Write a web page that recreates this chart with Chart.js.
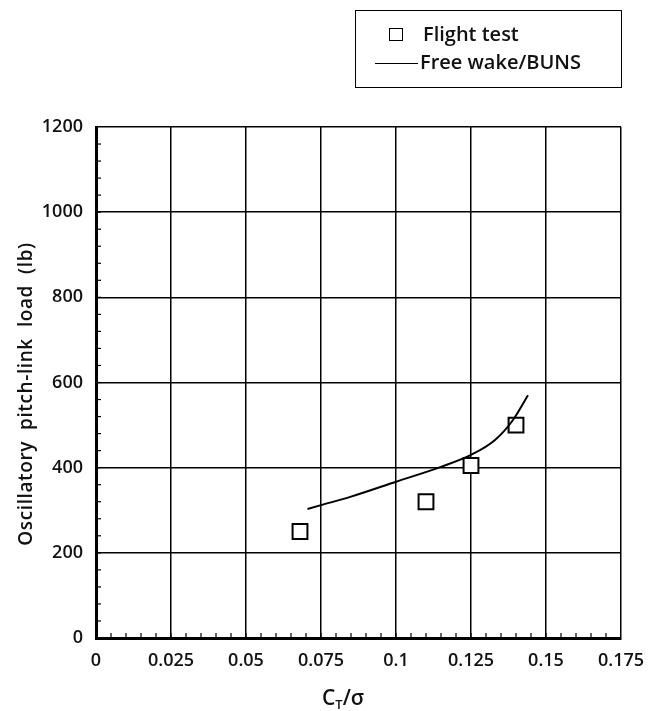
<!DOCTYPE html>
<html>
<head>
<meta charset="utf-8">
<script src="https://cdn.jsdelivr.net/npm/chart.js@4.4.0/dist/chart.umd.min.js"></script>
<style>
  body { margin: 0; background: #fff; }
  #wrap { position: relative; width: 659px; height: 711px; }
  #legenda {
    position: absolute; left: 355px; top: 10px; width: 267px; height: 78px;
    border: 1.5px solid #000; box-sizing: border-box;
    font-family: "Open Sans", "DejaVu Sans", sans-serif; font-size: 20px; font-weight: 600; color: #111;
  }
  .item { position: absolute; left: 0; white-space: nowrap; line-height: 26px; }
  .quad { position: absolute; width: 12px; height: 11px; border: 1.5px solid #000; }
  .traco { position: absolute; height: 0; border-top: 1.5px solid #000; }
</style>
</head>
<body>
<div id="wrap">
  <canvas id="grafico" width="659" height="711"></canvas>
  <div id="legenda">
    <div class="quad" style="left:33px; top:17px;"></div>
    <div class="item" style="left:67px; top:10px;">Flight test</div>
    <div class="traco" style="left:19px; top:52px; width:43px;"></div>
    <div class="item" style="left:64px; top:38px;">Free wake/BUNS</div>
  </div>
</div>
<script>
// Dados
const voo_x = [0.068, 0.11, 0.125, 0.14];
const voo_y = [250, 320, 405, 500];

const buns_x = [0.0705, 0.075, 0.085, 0.1, 0.115, 0.125, 0.133, 0.139, 0.144];
const buns_y = [303, 312, 332, 367, 402, 430, 465, 512, 570];

const xTicks = [0, 0.025, 0.05, 0.075, 0.1, 0.125, 0.15, 0.175];
const yTicks = [0, 200, 400, 600, 800, 1000, 1200];

const fonte = '"Open Sans", "DejaVu Sans", sans-serif';

// Tiques menores e títulos dos eixos
const extras = {
  id: 'extras',
  afterDraw(chart) {
    const ctx = chart.ctx;
    const xs = chart.scales.x, ys = chart.scales.y;
    const a = chart.chartArea;
    ctx.save();
    ctx.strokeStyle = '#000';
    ctx.lineWidth = 1.2;
    for (let v = 0.005; v < 0.175; v += 0.005) {
      const px = xs.getPixelForValue(v);
      ctx.beginPath(); ctx.moveTo(px, a.bottom); ctx.lineTo(px, a.bottom - 5); ctx.stroke();
    }
    for (let v = 40; v < 1200; v += 40) {
      const py = ys.getPixelForValue(v);
      ctx.beginPath(); ctx.moveTo(a.left, py); ctx.lineTo(a.left + 5, py); ctx.stroke();
    }
    // título y
    ctx.fillStyle = '#111';
    ctx.font = '600 19px ' + fonte;
    ctx.letterSpacing = '0.6px';
    ctx.textAlign = 'center';
    ctx.textBaseline = 'middle';
    ctx.translate(27, 394);
    ctx.rotate(-Math.PI / 2);
    ctx.fillText('Oscillatory  pitch-link  load  (lb)', 0, 0);
    ctx.restore();

    // título x: C_T/σ
    ctx.save();
    ctx.fillStyle = '#111';
    ctx.textBaseline = 'alphabetic';
    ctx.textAlign = 'left';
    let x0 = 322, y0 = 705;
    ctx.font = '600 21px ' + fonte;
    ctx.fillText('C', x0, y0);
    x0 += ctx.measureText('C').width;
    ctx.font = '600 13px ' + fonte;
    ctx.fillText('T', x0, y0 + 4);
    x0 += ctx.measureText('T').width;
    ctx.font = '600 21px ' + fonte;
    ctx.fillText('/σ', x0, y0);
    ctx.restore();
  }
};

new Chart(document.getElementById('grafico'), {
  type: 'scatter',
  data: {
    datasets: [
      {
        label: 'Free wake/BUNS',
        type: 'line',
        data: buns_x.map((x, i) => ({ x: x, y: buns_y[i] })),
        borderColor: '#000',
        borderWidth: 2,
        pointRadius: 0,
        fill: false,
        cubicInterpolationMode: 'monotone'
      },
      {
        label: 'Flight test',
        data: voo_x.map((x, i) => ({ x: x, y: voo_y[i] })),
        pointStyle: 'rect',
        pointRadius: 10.5,
        pointBackgroundColor: '#fff',
        pointBorderColor: '#000',
        pointBorderWidth: 2
      }
    ]
  },
  plugins: [extras],
  options: {
    responsive: false,
    animation: false,
    layout: { padding: { left: 0, right: 38, top: 127, bottom: 0 } },
    plugins: { legend: { display: false }, tooltip: { enabled: false } },
    scales: {
      x: {
        type: 'linear', min: 0, max: 0.175,
        afterBuildTicks: (s) => { s.ticks = xTicks.map(v => ({ value: v })); },
        afterFit: (s) => { s.height = 73; },
        grid: { color: '#000', lineWidth: 1.5, drawTicks: false },
        border: { color: '#000', width: 3 },
        ticks: {
          color: '#111', padding: 12, maxRotation: 0,
          font: { family: fonte, size: 18, weight: '600' },
          callback: (v) => String(v)
        }
      },
      y: {
        min: 0, max: 1200,
        afterBuildTicks: (s) => { s.ticks = yTicks.map(v => ({ value: v })); },
        afterFit: (s) => { s.width = 96; },
        grid: { color: '#000', lineWidth: 1.5, drawTicks: false },
        border: { color: '#000', width: 3 },
        ticks: {
          color: '#111', padding: 13,
          font: { family: fonte, size: 18, weight: '600' },
          callback: (v) => String(v)
        }
      }
    }
  }
});
</script>
</body>
</html>
